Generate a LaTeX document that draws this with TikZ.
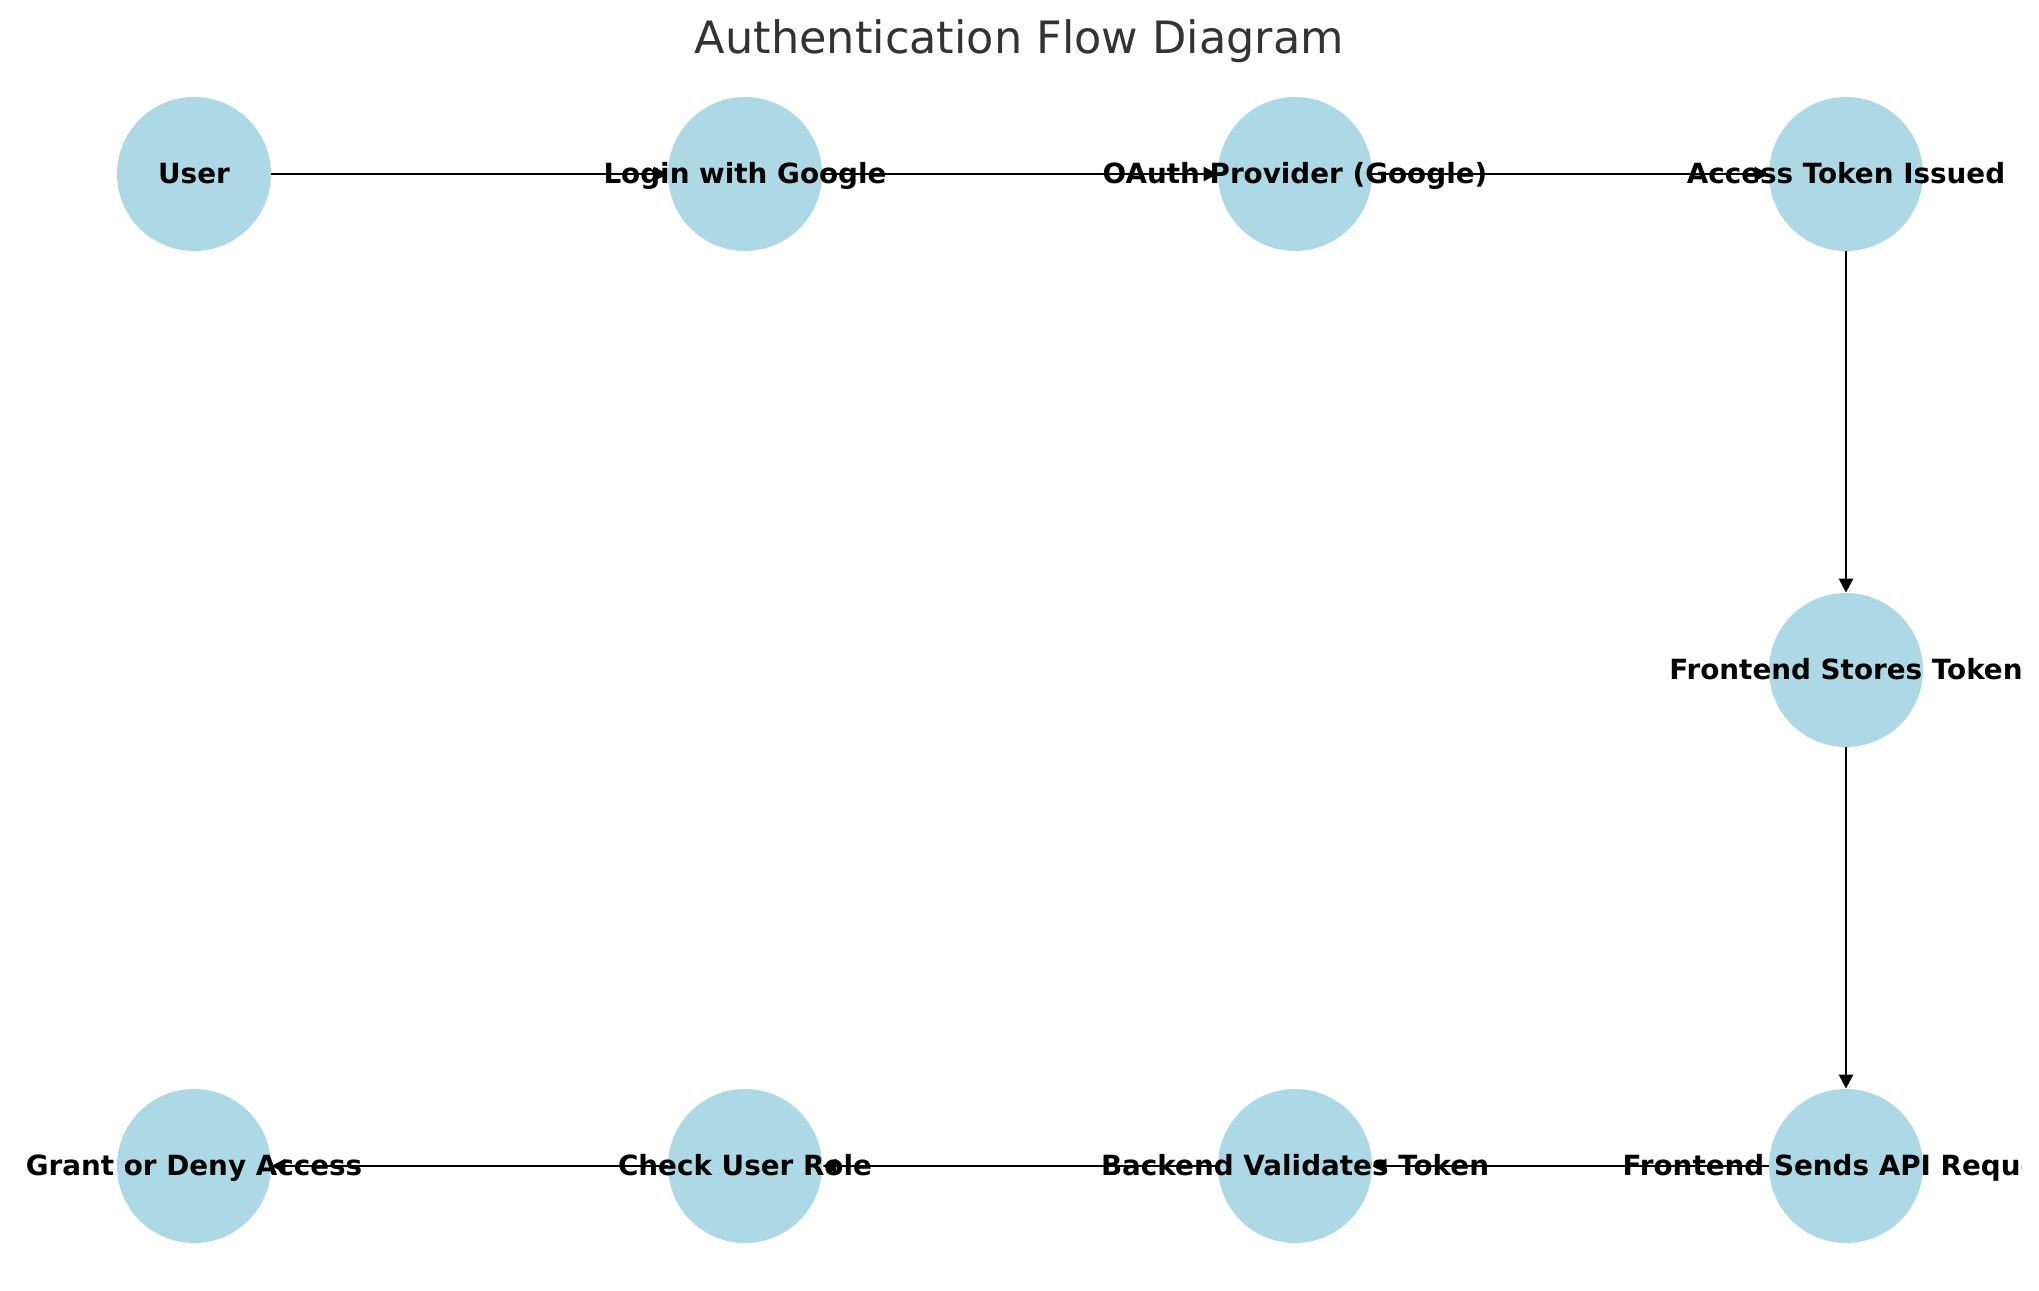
\documentclass[tikz,border=0pt]{standalone}
\usepackage{fontspec}
\setmainfont{DejaVu Sans}
\usetikzlibrary{arrows.meta}
\definecolor{nodeblue}{HTML}{ADD8E6}
\definecolor{titlegray}{HTML}{333333}
\begin{document}
\begin{tikzpicture}[x=0.5pt,y=-0.5pt,
  disc/.style={circle,fill=nodeblue,minimum size=77pt,inner sep=0pt,draw=none},
  lbl/.style={font=\fontsize{13.9}{16}\selectfont\bfseries,anchor=base,inner sep=0pt},
  flow/.style={draw=black,line width=1.3pt,-{Triangle[length=7pt,width=7pt]}}]
\useasboundingbox (0,0) rectangle (2039,1290);
\node[font=\fontsize{22.3}{26}\selectfont,text=titlegray,anchor=base,inner sep=0pt] (title) at (1019.5,53) {Authentication Flow Diagram};
% nodes
\node[disc] (user)   at (194,174) {};
\node[disc] (login)  at (745,174) {};
\node[disc] (oauth)  at (1295,174) {};
\node[disc] (access) at (1846,174) {};
\node[disc] (stores) at (1846,670) {};
\node[disc] (sends)  at (1846,1166) {};
\node[disc] (backend) at (1295,1166) {};
\node[disc] (check)  at (745,1166) {};
\node[disc] (grant)  at (194,1166) {};
% edges
\draw[flow] (user) -- (login);
\draw[flow] (login) -- (oauth);
\draw[flow] (oauth) -- (access);
\draw[flow] (access) -- (stores);
\draw[flow] (stores) -- (sends);
\draw[flow] (sends) -- (backend);
\draw[flow] (backend) -- (check);
\draw[flow] (check) -- (grant);
% labels
\begin{scope}
\clip (0,0) rectangle (2021,1290);
\node[lbl] (tuser)    at (194,183.5) {User};
\node[lbl] (tlogin)   at (745,183.5) {Login with Google};
\node[lbl] (toauth)   at (1295,183.5) {OAuth Provider (Google)};
\node[lbl] (taccess)  at (1846,183.5) {Access Token Issued};
\node[lbl] (tstores)  at (1846,679.5) {Frontend Stores Token};
\node[lbl] (tsends)   at (1846,1175.5) {Frontend Sends API Request};
\node[lbl] (tbackend) at (1295,1175.5) {Backend Validates Token};
\node[lbl] (tcheck)   at (745,1175.5) {Check User Role};
\node[lbl] (tgrant)   at (194,1175.5) {Grant or Deny Access};
\end{scope}
\end{tikzpicture}
\end{document}
